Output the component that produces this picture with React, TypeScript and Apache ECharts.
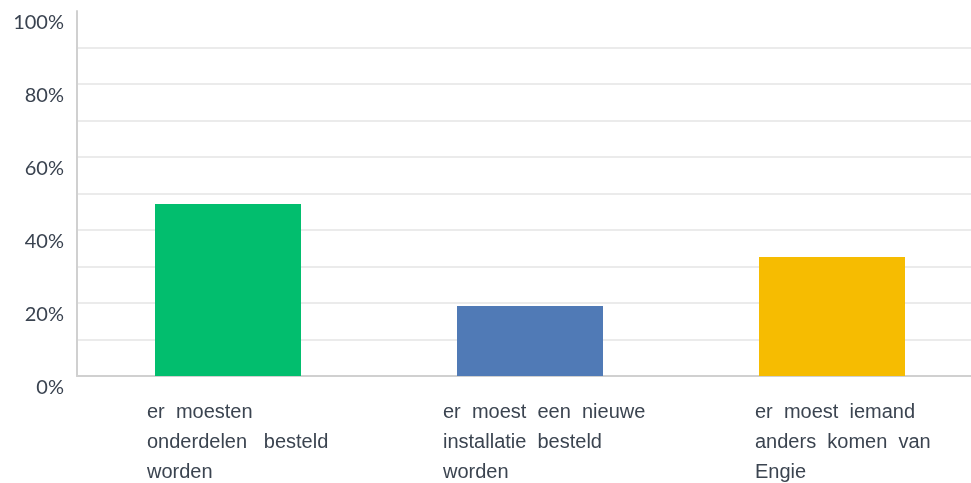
import React, { useEffect, useRef } from "react";
import * as echarts from "echarts";

const categories = [
  "er  moesten\nonderdelen   besteld\nworden",
  "er  moest  een  nieuwe\ninstallatie  besteld\nworden",
  "er  moest  iemand\nanders  komen  van\nEngie",
];
const values = [47.1, 19.2, 32.6];
const barColors = ["#02BE6E", "#507AB6", "#F6BC01"];
const labelShift = [81, 87, 77];

export default function App() {
  const ref = useRef<HTMLDivElement>(null);
  useEffect(() => {
    if (!ref.current) return;
    const chart = echarts.init(ref.current, undefined, { renderer: "svg" });
    const rich: Record<string, any> = {};
    labelShift.forEach((s, i) => {
      rich["c" + i] = {
        fontFamily: "Liberation Sans, Arial, sans-serif",
        fontSize: 20,
        lineHeight: 30,
        color: "#3B4450",
        width: 2 * s,
        align: "left",
      };
    });
    chart.setOption({
      animation: false,
      grid: { left: 77, right: 0, top: 11, bottom: 107, containLabel: false },
      xAxis: {
        type: "category",
        data: categories,
        axisLine: { show: true, lineStyle: { color: "#D0D0D0", width: 2 } },
        axisTick: { show: false },
        axisLabel: {
          interval: 0,
          margin: 20,
          align: "center",
          formatter: (v: string, i: number) =>
            v
              .split("\n")
              .map((l) => `{c${i}|${l}}`)
              .join("\n"),
          rich,
        },
      },
      yAxis: {
        type: "value",
        min: 0,
        max: 100,
        interval: 10,
        axisLine: { show: true, lineStyle: { color: "#D0D0D0", width: 2 } },
        axisTick: { show: false },
        splitLine: { show: true, showMaxLine: false, lineStyle: { color: "#EBEBEB", width: 2 } },
        axisLabel: {
          formatter: (v: number) => (v % 20 === 0 ? v + "%" : ""),
          fontFamily: "Lato, sans-serif",
          fontSize: 20,
          color: "#3A4350",
          margin: 13,
          verticalAlign: "top",
        },
      },
      series: [
        {
          type: "bar",
          barWidth: 146,
          data: values.map((v, i) => ({ value: v, itemStyle: { color: barColors[i] } })),
        },
      ],
    });
    return () => chart.dispose();
  }, []);
  return (
    <div
      style={{
        position: "fixed",
        left: 0,
        top: 0,
        width: 971,
        height: 483,
        overflow: "hidden",
      }}
    >
      <div ref={ref} style={{ width: 983, height: 483 }} />
    </div>
  );
}
